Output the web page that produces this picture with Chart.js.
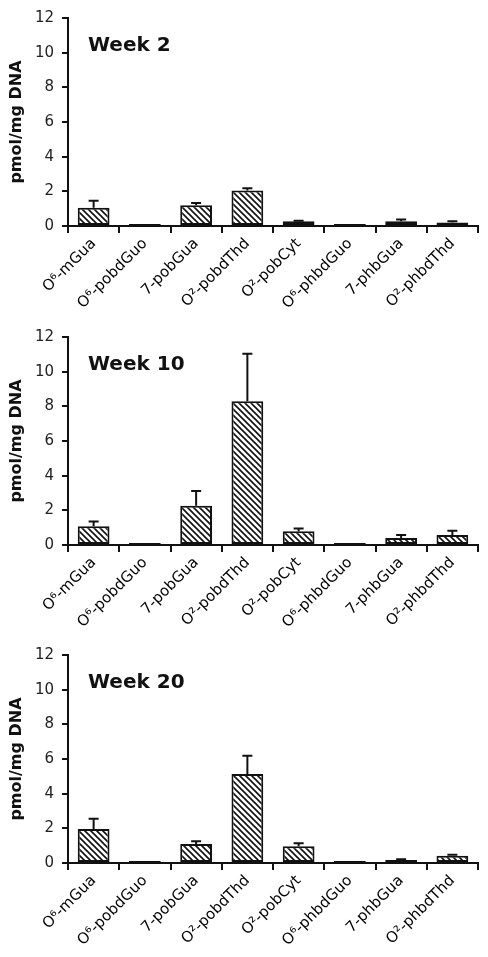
<!DOCTYPE html>
<html>
<head>
<meta charset="utf-8">
<script src="https://cdn.jsdelivr.net/npm/chart.js@4/dist/chart.umd.min.js"></script>
<style>
  body { margin: 0; background: #fff; }
  .panel { position: absolute; left: 0; width: 488px; height: 319px; }
  .week { position: absolute; left: 88px; top: 33px; font: bold 20px "DejaVu Sans"; line-height: 20px; color: #111; }
</style>
</head>
<body>
<div class="panel" style="top:1px"><canvas id="c0" width="488" height="319"></canvas><div class="week">Week 2</div></div>
<div class="panel" style="top:320px"><canvas id="c1" width="488" height="319"></canvas><div class="week">Week 10</div></div>
<div class="panel" style="top:638px"><canvas id="c2" width="488" height="319"></canvas><div class="week">Week 20</div></div>
<script>
const adducts = ["O⁶-mGua", "O⁶-pobdGuo", "7-pobGua", "O²-pobdThd", "O²-pobCyt", "O⁶-phbdGuo", "7-phbGua", "O²-phbdThd"];
const yTicks = [0, 2, 4, 6, 8, 10, 12];

const week2 = [1.05, 0.02, 1.2, 2.05, 0.27, 0.02, 0.27, 0.2];
const week2Err = [0.4, 0, 0.13, 0.13, 0.04, 0, 0.1, 0.08];
const week10 = [1.08, 0.03, 2.27, 8.3, 0.8, 0.03, 0.4, 0.57];
const week10Err = [0.28, 0, 0.84, 2.73, 0.15, 0, 0.17, 0.25];
const week20 = [1.96, 0.02, 1.1, 5.14, 0.97, 0.01, 0.17, 0.42];
const week20Err = [0.59, 0, 0.16, 1.05, 0.17, 0, 0.04, 0.06];

// diagonal hatch fill
function makeHatch() {
  const n = 6;
  const p = document.createElement("canvas");
  p.width = n;
  p.height = n;
  const g = p.getContext("2d");
  g.fillStyle = "#fff";
  g.fillRect(0, 0, n, n);
  g.strokeStyle = "#111";
  g.lineWidth = 1.6;
  g.beginPath();
  g.moveTo(-1, -1); g.lineTo(n + 1, n + 1);
  g.moveTo(-1, n - 1); g.lineTo(1, n + 1);
  g.moveTo(n - 1, -1); g.lineTo(n + 1, 1);
  g.stroke();
  return g.createPattern(p, "repeat");
}

const errorBars = {
  id: "errorBars",
  afterDatasetsDraw(chart) {
    const ctx = chart.ctx;
    const y = chart.scales.y;
    const ds = chart.data.datasets[0];
    const meta = chart.getDatasetMeta(0);
    ctx.save();
    ctx.strokeStyle = "#111";
    ctx.lineWidth = 2;
    meta.data.forEach((bar, i) => {
      const err = ds.errors[i];
      if (!err) return;
      const top = y.getPixelForValue(ds.data[i] + err);
      ctx.beginPath();
      ctx.moveTo(bar.x, bar.y);
      ctx.lineTo(bar.x, top);
      ctx.moveTo(bar.x - 5, top);
      ctx.lineTo(bar.x + 5, top);
      ctx.stroke();
    });
    ctx.restore();
  }
};

function buildChart(id, values, errors) {
  const ctx = document.getElementById(id).getContext("2d");
  new Chart(ctx, {
    type: "bar",
    data: {
      labels: adducts,
      datasets: [{
        data: values,
        errors: errors,
        backgroundColor: makeHatch(),
        borderColor: "#111",
        borderWidth: 2,
        borderSkipped: false,
        minBarLength: 2,
        categoryPercentage: 1,
        barPercentage: 0.62
      }]
    },
    options: {
      responsive: false,
      animation: false,
      layout: { padding: { top: 14, right: 10, left: 0, bottom: 0 } },
      plugins: { legend: { display: false }, tooltip: { enabled: false } },
      scales: {
        x: {
          afterFit: s => { s.height = 319 - 225; },
          border: { color: "#111", width: 2 },
          grid: { offset: true, drawOnChartArea: false, tickLength: 7, color: "#111", lineWidth: 2 },
          ticks: {
            autoSkip: false, minRotation: 45, maxRotation: 45, padding: 2,
            color: "#000", font: { family: "DejaVu Sans", size: 15 }
          }
        },
        y: {
          min: 0,
          max: 12,
          afterFit: s => { s.width = 68; },
          afterBuildTicks: s => { s.ticks = yTicks.map(v => ({ value: v })); },
          border: { color: "#111", width: 2 },
          grid: { drawOnChartArea: false, tickLength: 6, color: "#111", lineWidth: 2 },
          ticks: { padding: 8, color: "#222", font: { family: "DejaVu Sans", size: 15 } },
          title: {
            display: true,
            text: "pmol/mg DNA",
            color: "#111",
            padding: { top: 7, bottom: 0 },
            font: { family: "DejaVu Sans", size: 16, weight: "bold" }
          }
        }
      }
    },
    plugins: [errorBars]
  });
}

buildChart("c0", week2, week2Err);
buildChart("c1", week10, week10Err);
buildChart("c2", week20, week20Err);
</script>
</body>
</html>
